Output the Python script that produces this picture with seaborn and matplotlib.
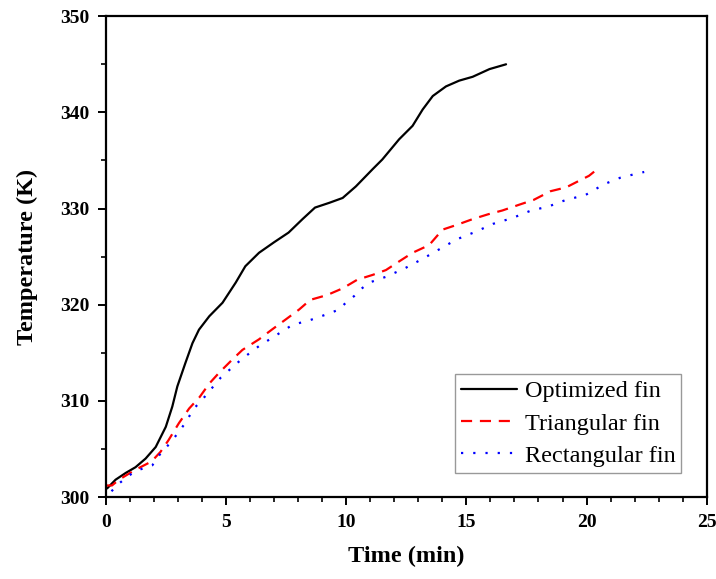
import numpy as np
import pandas as pd
import matplotlib
matplotlib.use("Agg")
import matplotlib.pyplot as plt
from matplotlib.ticker import MultipleLocator
import seaborn as sns

# Optimized fin (black solid)
opt_time = [0.05, 0.4, 0.82, 1.23, 1.65, 2.07, 2.49, 2.76, 2.97, 3.3, 3.6, 3.87, 4.3, 4.85,
            5.4, 5.8, 6.37, 7.0, 7.6, 8.18, 8.7, 9.3, 9.85, 10.4, 11.1, 11.5, 12.2, 12.76,
            13.18, 13.6, 14.15, 14.7, 15.26, 15.96, 16.65]
opt_temp = [300.9, 301.8, 302.5, 303.1, 304.0, 305.2, 307.3, 309.4, 311.5, 313.9, 316.0, 317.4,
            318.8, 320.2, 322.3, 324.0, 325.4, 326.5, 327.5, 328.9, 330.1, 330.6, 331.1, 332.3,
            334.1, 335.1, 337.2, 338.6, 340.3, 341.7, 342.7, 343.3, 343.7, 344.5, 345.0]

# Triangular fin (red dashed)
tri_time = [0.0, 0.25, 0.54, 1.2, 1.9, 2.27, 2.6, 3.04, 3.46, 3.9, 4.3, 4.7, 5.26, 5.68, 6.37,
            6.9, 7.5, 8.04, 8.5, 9.2, 9.85, 10.46, 11.1, 11.65, 12.2, 12.76, 13.45, 13.9, 14.0,
            14.6, 15.26, 15.9, 16.5, 17.2, 17.8, 18.5, 19.15, 19.7, 20.1, 20.4]
tri_temp = [301.2, 301.2, 301.8, 302.8, 303.7, 304.7, 305.9, 307.7, 309.2, 310.4, 311.8, 312.9,
            314.3, 315.3, 316.4, 317.4, 318.5, 319.5, 320.5, 321.0, 321.7, 322.6, 323.1, 323.6,
            324.5, 325.4, 326.2, 327.5, 327.8, 328.3, 328.9, 329.4, 329.8, 330.4, 330.9, 331.8,
            332.2, 332.9, 333.4, 334.0]

# Rectangular fin (blue dotted)
rect_time = [0.23, 0.54, 0.89, 1.23, 1.58, 1.93, 2.2, 2.49, 2.76, 3.04, 3.3, 3.66, 4.0, 4.3,
             4.77, 5.4, 5.68, 6.37, 7.07, 7.76, 8.5, 9.3, 9.7, 9.98, 10.33, 10.6, 10.96, 11.65,
             12.45, 13.2, 13.9, 14.6, 15.4, 16.1, 16.9, 17.7, 18.4, 19.15, 19.95, 20.3, 20.7,
             21.4, 22.2, 22.4]
rect_temp = [300.6, 301.4, 302.1, 302.7, 303.0, 303.3, 304.3, 305.1, 305.9, 306.8, 307.7, 309.2,
             310.1, 311.0, 312.4, 313.8, 314.4, 315.7, 316.8, 317.9, 318.4, 319.1, 319.5, 320.2,
             320.9, 321.6, 322.3, 322.9, 323.8, 324.8, 325.8, 326.8, 327.6, 328.4, 329.0, 329.8,
             330.2, 330.9, 331.4, 331.9, 332.5, 333.2, 333.7, 333.8]

sns.set_style("ticks")
plt.rcParams['font.family'] = ['Liberation Serif', 'DejaVu Serif']
plt.rcParams['text.color'] = 'black'
plt.rcParams['axes.labelcolor'] = 'black'
plt.rcParams['xtick.color'] = 'black'
plt.rcParams['ytick.color'] = 'black'

fig = plt.figure(figsize=(7.16, 5.79), dpi=100)
ax = fig.add_axes([0.148, 0.1416, 0.839, 0.8304])

sns.lineplot(x=opt_time, y=opt_temp, ax=ax, color='black', linewidth=1.6,
             label='Optimized fin', sort=False)
sns.lineplot(x=tri_time, y=tri_temp, ax=ax, color='red', linewidth=1.6,
             linestyle=(0, (5, 3.5)), label='Triangular fin', sort=False)
sns.lineplot(x=rect_time, y=rect_temp, ax=ax, color='blue', linewidth=1.6,
             linestyle=(0, (1, 4.5)), label='Rectangular fin', sort=False)

ax.set_xlim(0, 25)
ax.set_ylim(300, 350)
ax.xaxis.set_major_locator(MultipleLocator(5))
ax.xaxis.set_minor_locator(MultipleLocator(1))
ax.yaxis.set_major_locator(MultipleLocator(10))
ax.yaxis.set_minor_locator(MultipleLocator(5))
ax.tick_params(which='major', direction='out', length=6, width=1.4, labelsize=14,
               color='black', labelcolor='black', pad=6)
ax.tick_params(which='minor', direction='out', length=3.5, width=1.2, color='black')
for lab in ax.get_xticklabels() + ax.get_yticklabels():
    lab.set_fontweight('bold')

for sp in ax.spines.values():
    sp.set_visible(True)
    sp.set_linewidth(1.6)
    sp.set_color('black')

ax.set_xlabel('Time (min)', fontsize=17.5, fontweight='bold', labelpad=11, color='black')
ax.set_ylabel('Temperature (K)', fontsize=17.5, fontweight='bold', labelpad=16, color='black')

leg = ax.legend(loc='lower right', bbox_to_anchor=(0.958, 0.05), fontsize=17.5, frameon=True,
                fancybox=False, edgecolor='gray', handlelength=2.3, handletextpad=0.3,
                borderpad=0.25, labelspacing=0.42, borderaxespad=0)
leg.get_frame().set_linewidth(1.0)
for txt in leg.get_texts():
    txt.set_color('black')

fig.savefig('out.png', dpi=100)
